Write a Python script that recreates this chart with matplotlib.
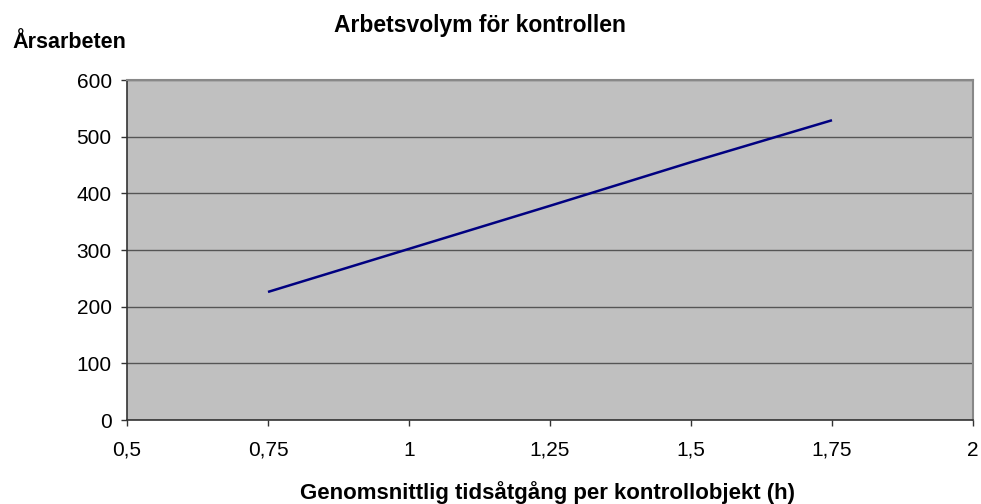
import matplotlib
matplotlib.use("Agg")
import matplotlib.pyplot as plt

x_vals = [0.75, 1.0, 1.25, 1.5, 1.75]
y_vals = [226, 302, 378, 455, 529]
x_ticks = [0.5, 0.75, 1.0, 1.25, 1.5, 1.75, 2.0]
x_tick_labels = ["0,5", "0,75", "1", "1,25", "1,5", "1,75", "2"]
y_ticks = [0, 100, 200, 300, 400, 500, 600]

plt.rcParams['font.family'] = ['Liberation Sans', 'DejaVu Sans']

fig = plt.figure(figsize=(9.81, 5.04), dpi=100)
W, H = 981, 504
ax = fig.add_axes([127 / W, 1 - 420 / H, (973 - 127) / W, (420 - 80) / H])
ax.set_facecolor('#C0C0C0')

ax.plot(x_vals, y_vals, color='#000080', lw=1.8, solid_capstyle='butt')

ax.set_xlim(0.5, 2.0)
ax.set_ylim(0, 600)
ax.set_xticks(x_ticks)
ax.set_xticklabels(x_tick_labels)
ax.set_yticks(y_ticks)
ax.yaxis.grid(True, color='#555555', lw=1)
ax.set_axisbelow(True)

for s in ['left', 'bottom']:
    ax.spines[s].set_color('#333333')
    ax.spines[s].set_linewidth(1.2)
for s in ['top', 'right']:
    ax.spines[s].set_color('#888888')
    ax.spines[s].set_linewidth(1.5)

ax.tick_params(axis='both', direction='out', length=4, width=1, color='#333333',
               labelsize=15, labelcolor='black')
ax.tick_params(axis='x', pad=11)
ax.tick_params(axis='y', pad=7)

fig.text(480 / W, 1 - 32 / H, "Arbetsvolym för kontrollen", ha='center', va='baseline',
         fontsize=16.5, fontweight='bold')
fig.text(12 / W, 1 - 48 / H, "Årsarbeten", ha='left', va='baseline',
         fontsize=15.5, fontweight='bold')
fig.text(548 / W, 1 - 499 / H, "Genomsnittlig tidsåtgång per kontrollobjekt (h)",
         ha='center', va='baseline', fontsize=16, fontweight='bold')

fig.savefig("out.png", dpi=100)
